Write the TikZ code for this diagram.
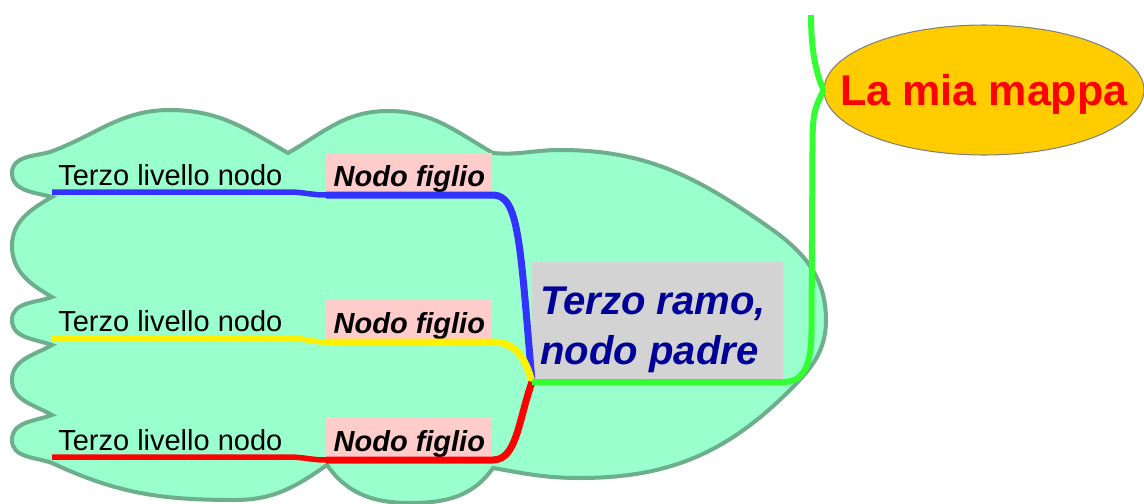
\documentclass[tikz,border=0pt]{standalone}
\usepackage{fontspec}
\setmainfont{Liberation Sans}
\usetikzlibrary{shapes.geometric}
\definecolor{cloudfill}{HTML}{99FFCC}
\definecolor{clouddraw}{HTML}{6DAE8C}
\definecolor{rootfill}{HTML}{FFCC00}
\definecolor{childfill}{HTML}{FFCCCC}
\definecolor{parentfill}{HTML}{D3D3D3}
\definecolor{navy}{HTML}{000099}
\definecolor{eblue}{HTML}{3333FF}
\definecolor{egreen}{HTML}{33FF33}

\begin{document}
\begin{tikzpicture}[x=0.02cm,y=0.02cm,
  leaf node/.style={anchor=south west,inner xsep=0.12cm,inner ysep=0.12cm,font=\fontsize{16.5}{19}\selectfont},
  child node/.style={anchor=south west,fill=childfill,minimum width=3.32cm,inner xsep=0cm,inner ysep=0cm,text height=0.68cm,text depth=0.16cm,font=\fontsize{16.5}{20}\selectfont\bfseries\itshape},
  parent node/.style={anchor=south west,fill=parentfill,inner xsep=0.16cm,inner ysep=0cm,text height=1.06cm,text depth=1.34cm,text=navy,font=\fontsize{22.8}{28.5}\selectfont\bfseries\itshape},
  root node/.style={ellipse,fill=rootfill,draw=gray,line width=0.6pt,minimum width=6.4cm,minimum height=2.6cm,text=red,text depth=0pt,font=\fontsize{24.5}{29}\selectfont\bfseries},
  leaf edge/.style={line width=0.11cm},
  child edge/.style={line width=0.14cm},
  root edge/.style={line width=0.12cm,egreen}]

  \useasboundingbox (0,0) rectangle (1144,-504);

  \draw[fill=cloudfill,draw=clouddraw,line width=0.08cm]
    (50,-152) to[out=195,in=90] (12,-173) to[out=-90,in=165] (52,-197)
    to[out=210,in=90] (12,-246) to[out=-90,in=150] (52,-297)
    to[out=200,in=90] (12,-320) to[out=-90,in=160] (52,-345)
    to[out=210,in=90] (12,-380) to[out=-90,in=150] (52,-415)
    to[out=200,in=90] (12,-440) to[out=-90,in=160] (52,-463)
    to[out=-25,in=180] (235,-500) to[out=0,in=215] (327,-465)
    to[out=-55,in=180] (410,-503) to[out=0,in=-125] (493,-468)
    to[out=-10,in=180] (580,-478) to[out=0,in=225] (790,-390)
    to[out=45,in=-90] (826,-320) to[out=90,in=-35] (770,-228)
    to[out=145,in=0] (560,-150) to[out=180,in=-5] (493,-153)
    to[out=150,in=0] (388,-111) to[out=180,in=30] (288,-153)
    to[out=150,in=0] (170,-110) to[out=180,in=20] (50,-152) -- cycle;

  \node[leaf node] (1) at (52,-192) {Terzo livello nodo};
  \node[leaf node] (2) at (52,-338) {Terzo livello nodo};
  \node[leaf node] (3) at (52,-457) {Terzo livello nodo};
  \node[child node] (4) at (326,-195) {Nodo figlio};
  \node[child node] (5) at (326,-342) {Nodo figlio};
  \node[child node] (6) at (326,-460) {Nodo figlio};
  \node[parent node] (7) at (532,-382) {\parbox[t]{4.7cm}{\raggedright Terzo ramo,\\nodo padre}};
  \node[root node] (8) at (984,-90) {\makebox[0pt]{La mia mappa}};
  \coordinate (9) at (811,-15);

  \draw[child edge,eblue] (7.south west) .. controls +(-12,142) and +(26,0) .. (4.south east) -- (4.south west);
  \draw[leaf edge,eblue] (4.south west) to[out=180,in=0] (1.south east) -- (1.south west);
  \draw[child edge,yellow] (7.south west) .. controls +(-6,22) and +(24,0) .. (5.south east) -- (5.south west);
  \draw[leaf edge,yellow] (5.south west) to[out=180,in=0] (2.south east) -- (2.south west);
  \draw[child edge,red] (7.south west) .. controls +(-14,-40) and +(24,0) .. (6.south east) -- (6.south west);
  \draw[leaf edge,red] (6.south west) to[out=180,in=0] (3.south east) -- (3.south west);
  \draw[root edge] (8.west) .. controls +(-9,-20) and +(0,40) .. ++(-11,-60) -- ++(-1,-180)
    .. controls +(0,-35) and +(20,0) .. (7.south east) -- (7.south west);
  \draw[root edge] (8.west) .. controls +(-9,20) and +(0,-30) .. (9);
\end{tikzpicture}
\end{document}
